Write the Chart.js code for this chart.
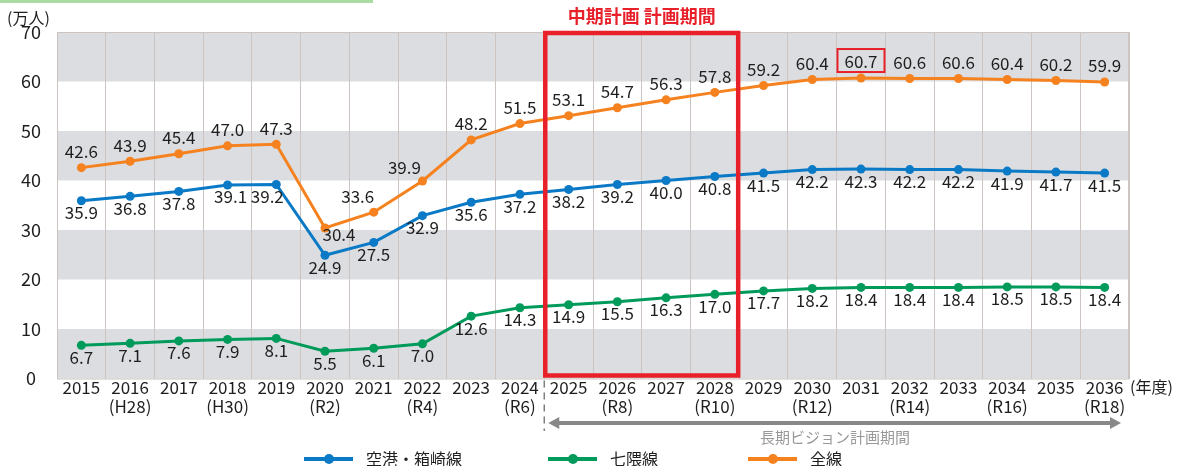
<!DOCTYPE html>
<html>
<head>
<meta charset="utf-8">
<script src="https://cdn.jsdelivr.net/npm/chart.js@4"></script>
<style>
  html, body { margin: 0; padding: 0; background: #fff; }
  canvas { display: block; }
</style>
</head>
<body>
<canvas id="ridershipChart" width="1180" height="466"></canvas>
<script>
// 年度ラベル
const years = ['2015','2016','2017','2018','2019','2020','2021','2022','2023','2024','2025',
  '2026','2027','2028','2029','2030','2031','2032','2033','2034','2035','2036'];
const eraLabels = ['','(H28)','','(H30)','','(R2)','','(R4)','','(R6)','','(R8)','','(R10)','',
  '(R12)','','(R14)','','(R16)','','(R18)'];

// 乗車人員 (万人)
const airportHakozaki = [35.9, 36.8, 37.8, 39.1, 39.2, 24.9, 27.5, 32.9, 35.6, 37.2, 38.2,
  39.2, 40.0, 40.8, 41.5, 42.2, 42.3, 42.2, 42.2, 41.9, 41.7, 41.5];
const nanakuma = [6.7, 7.1, 7.6, 7.9, 8.1, 5.5, 6.1, 7.0, 12.6, 14.3, 14.9,
  15.5, 16.3, 17.0, 17.7, 18.2, 18.4, 18.4, 18.4, 18.5, 18.5, 18.4];
const allLines = [42.6, 43.9, 45.4, 47.0, 47.3, 30.4, 33.6, 39.9, 48.2, 51.5, 53.1,
  54.7, 56.3, 57.8, 59.2, 60.4, 60.7, 60.6, 60.6, 60.4, 60.2, 59.9];

const seriesNames = ['空港・箱崎線', '七隈線', '全線'];
const yTicks = [0, 10, 20, 30, 40, 50, 60, 70];

const midPlanFirst = '2025', midPlanLast = '2028';  // 中期計画 計画期間
const visionFirst = '2025', visionLast = '2036';    // 長期ビジョン計画期間
const peakYear = '2031';                              // 60.7 を枠で囲む

const FONT = '"Noto Sans CJK JP", "Noto Sans", sans-serif';
const BLUE = '#0a79c6', GREEN = '#009a5b', ORANGE = '#f5821f';
const BAND = '#dcdde0', GRID = '#cbc4c0', RED = '#e8202a';

// label nudges (dx, dy) for crowded points
const labelPlace = [
  { above: false, tweak: { 3: [3, 0], 4: [-9, 0] } },
  { above: false, tweak: {} },
  { above: true, tweak: { 5: [14, 23], 6: [-16, 0], 7: [-18, 3] } },
];

const decorPlugin = {
  id: 'decor',
  beforeDraw(chart) {
    const { ctx, chartArea: a, scales: { y } } = chart;
    ctx.save();
    ctx.fillStyle = '#fff';
    ctx.fillRect(0, 0, chart.width, chart.height);
    // 上部の緑の線
    ctx.strokeStyle = '#a9dba3';
    ctx.lineWidth = 3;
    ctx.beginPath();
    ctx.moveTo(0, 1.5);
    ctx.lineTo(373, 1.5);
    ctx.stroke();
    // 灰色の帯
    ctx.fillStyle = BAND;
    for (let v = 0; v < 70; v += 20) {
      const top = y.getPixelForValue(v + 10), bot = y.getPixelForValue(v);
      ctx.fillRect(a.left, top, a.right - a.left, bot - top);
    }
    ctx.restore();
  },
  afterDraw(chart) {
    const { ctx, chartArea: a, scales: { x } } = chart;
    const half = (x.getPixelForValue(1) - x.getPixelForValue(0)) / 2;
    ctx.save();
    // plot border
    ctx.strokeStyle = GRID;
    ctx.lineWidth = 1;
    ctx.strokeRect(a.left + 0.5, a.top + 0.5, a.right - a.left - 1, a.bottom - a.top);

    // data labels
    ctx.font = '17px ' + FONT;
    ctx.fillStyle = '#1e1e1e';
    ctx.textAlign = 'center';
    ctx.textBaseline = 'middle';
    chart.data.datasets.forEach((ds, di) => {
      const meta = chart.getDatasetMeta(di);
      const place = labelPlace[di];
      meta.data.forEach((pt, i) => {
        const t = place.tweak[i] || [0, 0];
        const dy = place.above ? -16 : 12;
        ctx.fillText(ds.data[i].toFixed(1), pt.x + t[0], pt.y + dy + t[1]);
      });
    });

    // 60.7 の枠
    const peakIdx = years.indexOf(peakYear);
    const pk = chart.getDatasetMeta(2).data[peakIdx];
    ctx.strokeStyle = RED;
    ctx.lineWidth = 2;
    ctx.strokeRect(pk.x - 23.5, pk.y - 29, 47, 23);

    // 中期計画の枠
    const mx0 = x.getPixelForValue(years.indexOf(midPlanFirst)) - half;
    const mx1 = x.getPixelForValue(years.indexOf(midPlanLast)) + half;
    ctx.lineWidth = 4.5;
    ctx.strokeRect(mx0 + 1, a.top + 1, mx1 - mx0 - 2, a.bottom - a.top - 4);
    ctx.fillStyle = RED;
    ctx.font = 'bold 18px ' + FONT;
    ctx.fillText('中期計画 計画期間', (mx0 + mx1) / 2, 16);

    // (万人) と (年度)
    ctx.fillStyle = '#1e1e1e';
    ctx.font = '16px ' + FONT;
    ctx.textAlign = 'left';
    ctx.fillText('(万人)', 7, 18);
    ctx.fillText('(年度)', a.right + 1, 387);

    // 長期ビジョン計画期間
    const vx0 = x.getPixelForValue(years.indexOf(visionFirst)) - half;
    const vx1 = x.getPixelForValue(years.indexOf(visionLast)) + half - 8;
    ctx.strokeStyle = '#7f7f7f';
    ctx.lineWidth = 1.5;
    ctx.setLineDash([7, 5]);
    ctx.beginPath();
    ctx.moveTo(vx0, a.bottom + 2);
    ctx.lineTo(vx0, 431);
    ctx.stroke();
    ctx.setLineDash([]);
    const ay = 423;
    ctx.strokeStyle = '#888';
    ctx.lineWidth = 4;
    ctx.beginPath();
    ctx.moveTo(vx0 + 12, ay);
    ctx.lineTo(vx1 - 10, ay);
    ctx.stroke();
    ctx.fillStyle = '#888';
    ctx.beginPath();
    ctx.moveTo(vx0 + 4, ay);
    ctx.lineTo(vx0 + 15, ay - 6);
    ctx.lineTo(vx0 + 15, ay + 6);
    ctx.closePath();
    ctx.fill();
    ctx.beginPath();
    ctx.moveTo(vx1, ay);
    ctx.lineTo(vx1 - 11, ay - 6);
    ctx.lineTo(vx1 - 11, ay + 6);
    ctx.closePath();
    ctx.fill();
    ctx.fillStyle = '#999';
    ctx.font = '15px ' + FONT;
    ctx.textAlign = 'center';
    ctx.fillText('長期ビジョン計画期間', 835, 437);

    // legend
    const legendX = [304, 548, 748];
    ctx.font = '16px ' + FONT;
    ctx.textAlign = 'left';
    chart.data.datasets.forEach((ds, di) => {
      const lx = legendX[di], ly = 459;
      ctx.strokeStyle = ds.borderColor;
      ctx.lineWidth = 4;
      ctx.beginPath();
      ctx.moveTo(lx, ly);
      ctx.lineTo(lx + 49, ly);
      ctx.stroke();
      ctx.fillStyle = ds.borderColor;
      ctx.beginPath();
      ctx.arc(lx + 25, ly, 5, 0, Math.PI * 2);
      ctx.fill();
      ctx.fillStyle = '#1e1e1e';
      ctx.fillText(ds.label, lx + 62, ly);
    });
    ctx.restore();
  }
};

const makeSet = (label, data, color) => ({
  label,
  data,
  borderColor: color,
  backgroundColor: color,
  borderWidth: 3,
  pointRadius: 4.5,
  pointBorderWidth: 0,
  pointBackgroundColor: color,
  tension: 0,
});

new Chart(document.getElementById('ridershipChart'), {
  type: 'line',
  data: {
    labels: years.map((yr, i) => [yr, eraLabels[i]]),
    datasets: [
      makeSet(seriesNames[0], airportHakozaki, BLUE),
      makeSet(seriesNames[1], nanakuma, GREEN),
      makeSet(seriesNames[2], allLines, ORANGE),
    ],
  },
  options: {
    responsive: false,
    animation: false,
    devicePixelRatio: 1,
    layout: { padding: { top: 32, right: 51, left: 0, bottom: 0 } },
    plugins: { legend: { display: false }, tooltip: { enabled: false } },
    scales: {
      x: {
        offset: true,
        grid: { offset: true, color: GRID, drawTicks: false },
        border: { display: false },
        ticks: {
          color: '#1e1e1e',
          padding: 0,
          maxRotation: 0,
          autoSkip: false,
          font: { family: FONT, size: 17, lineHeight: 1.1 },
        },
        afterFit: (s) => { s.height = 87.5; },
      },
      y: {
        min: 0,
        max: 70,
        afterBuildTicks: (s) => { s.ticks = yTicks.map(v => ({ value: v })); },
        grid: { display: false, drawTicks: false },
        border: { display: false },
        ticks: {
          color: '#1e1e1e',
          padding: 16,
          crossAlign: 'center',
          font: { family: FONT, size: 18 },
        },
        afterFit: (s) => { s.width = 57; },
      },
    },
  },
  plugins: [decorPlugin],
});
</script>
</body>
</html>
